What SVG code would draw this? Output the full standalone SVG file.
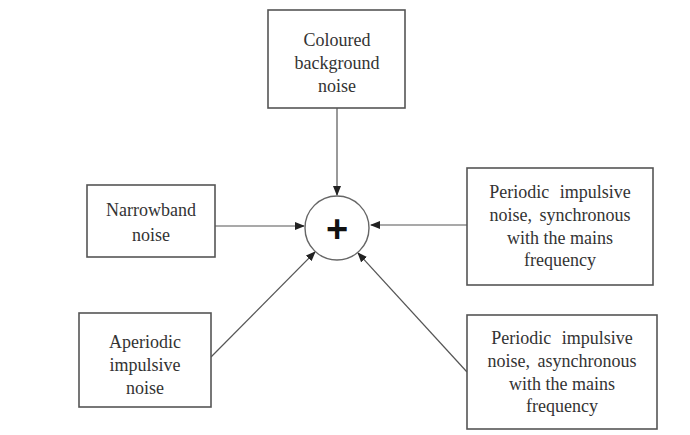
<svg xmlns="http://www.w3.org/2000/svg" width="690" height="435" viewBox="0 0 690 435">
<style>
.box{fill:#fff;stroke:#555;stroke-width:1.6}
.t{font-family:'Liberation Serif','Times New Roman',serif;font-size:18px;fill:#333;text-anchor:middle}
.c{stroke:#555;stroke-width:1.2;fill:none;marker-end:url(#ah)}
</style>
<defs>
<marker id="ah" markerWidth="10" markerHeight="8" refX="9" refY="4" orient="auto" markerUnits="userSpaceOnUse">
<path d="M0,0 L10,4 L0,8 Z" fill="#222"/>
</marker>
</defs>
<rect width="690" height="435" fill="#fff"/>
<g id="connectors">
<line class="c" x1="337" y1="108" x2="337" y2="195"/>
<line class="c" x1="215" y1="226" x2="304" y2="226"/>
<line class="c" x1="467" y1="225" x2="371" y2="225"/>
<line class="c" x1="211" y1="357" x2="315" y2="252"/>
<line class="c" x1="467" y1="372" x2="358" y2="253"/>
</g>
<g id="sum">
<circle cx="337" cy="228" r="32" fill="#fff" stroke="#666" stroke-width="1.4"/>
<text x="337" y="242" font-family="'Liberation Sans',Arial,sans-serif" font-size="38" font-weight="bold" fill="#111" text-anchor="middle">+</text>
</g>
<g id="coloured">
<rect class="box" x="268" y="10" width="137" height="98"/>
<text class="t" x="337" y="46">Coloured</text>
<text class="t" x="337" y="69">background</text>
<text class="t" x="337" y="92">noise</text>
</g>
<g id="narrowband">
<rect class="box" x="87" y="185" width="128" height="72"/>
<text class="t" x="151" y="216">Narrowband</text>
<text class="t" x="151" y="241">noise</text>
</g>
<g id="sync">
<rect class="box" x="467" y="168" width="186" height="117"/>
<text class="t" x="560" y="198" word-spacing="6">Periodic impulsive</text>
<text class="t" x="560" y="221" word-spacing="3">noise, synchronous</text>
<text class="t" x="560" y="244">with the mains</text>
<text class="t" x="560" y="266">frequency</text>
</g>
<g id="aperiodic">
<rect class="box" x="79" y="313" width="132" height="94"/>
<text class="t" x="145" y="348">Aperiodic</text>
<text class="t" x="145" y="371">impulsive</text>
<text class="t" x="145" y="394">noise</text>
</g>
<g id="async">
<rect class="box" x="467" y="315" width="190" height="114"/>
<text class="t" x="562" y="344" word-spacing="6">Periodic impulsive</text>
<text class="t" x="562" y="367" word-spacing="3">noise, asynchronous</text>
<text class="t" x="562" y="390">with the mains</text>
<text class="t" x="562" y="412">frequency</text>
</g>
</svg>
